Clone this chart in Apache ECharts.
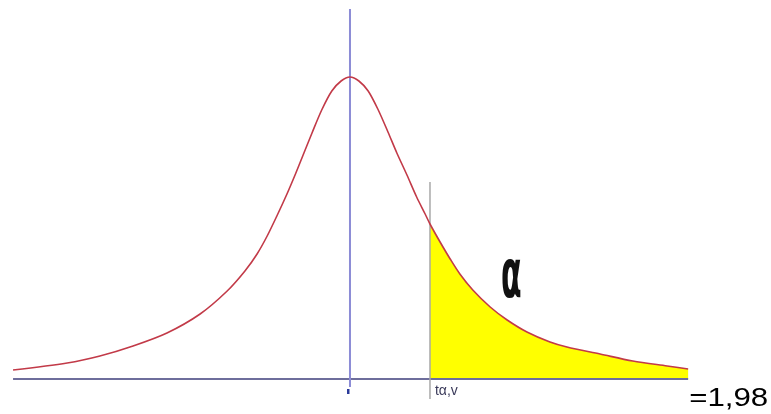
<!DOCTYPE html>
<html>
<head>
<meta charset="utf-8">
<script src="https://cdn.jsdelivr.net/npm/echarts@6/dist/echarts.min.js"></script>
<style>
  html, body { margin: 0; padding: 0; background: #fff; }
  #main { width: 771px; height: 414px; }
</style>
</head>
<body>
<div id="main"></div>
<script>
// curve points (t units, density)
const curveX = [-8.34, -7.00, -6.19, -5.37, -4.53, -3.71, -3.04, -2.60, -2.30, -2.05, -1.81, -1.56, -1.36, -1.16, -0.94, -0.70, -0.45, -0.22, 0,
  0.22, 0.45, 0.70, 0.94, 1.16, 1.41, 1.65, 1.86, 1.98, 2.23, 2.48, 2.72, 3.04, 3.47, 3.89, 4.38, 4.95, 5.37, 6.19, 7.00, 7.85, 8.37]
const curveY = [0.009, 0.016, 0.023, 0.033, 0.046, 0.065, 0.088, 0.108, 0.125, 0.143, 0.163, 0.185, 0.204, 0.224, 0.246, 0.269, 0.288, 0.298, 0.302,
  0.298, 0.288, 0.269, 0.247, 0.226, 0.204, 0.182, 0.165, 0.155, 0.137, 0.120, 0.105, 0.089, 0.072, 0.059, 0.047, 0.037, 0.032, 0.025, 0.018, 0.013, 0.010]
// critical value and guide lines
const tCrit = 1.98
const critLabel = '=1,98'
const tLabel = 'tα,v'
const alphaLabel = 'α'
const baseX = [-8.34, 8.37]
const centerY = [0.370, -0.008]
const critY = [0.197, -0.02]

const curve = curveX.map((x, i) => [x, curveY[i]])
const tail = curve.filter(p => p[0] >= tCrit)

const chart = echarts.init(document.getElementById('main'))
const option = {
    animation: false,
    grid: { left: 0, right: 0, top: 0, bottom: 0 },
    xAxis: { type: 'value', min: -8.663, max: 10.421, show: false },
    yAxis: { type: 'value', min: -0.035, max: 0.379, show: false },
    series: [
        {
            // area alpha
            type: 'line', data: tail, smooth: 0.3, symbol: 'none',
            lineStyle: { width: 0 },
            areaStyle: { color: '#ffff00', opacity: 1 },
            z: 1
        },
        {
            type: 'line', data: baseX.map(x => [x, 0]), symbol: 'none',
            lineStyle: { color: '#6e6e9c', width: 2 }, z: 2
        },
        {
            type: 'line', data: centerY.map(y => [0, y]), symbol: 'none',
            lineStyle: { color: '#8c8cd6', width: 2 }, z: 2
        },
        {
            type: 'line', data: critY.map(y => [tCrit, y]), symbol: 'none',
            lineStyle: { color: '#a8a8a8', width: 1.5 }, z: 2
        },
        {
            type: 'line', data: curve, smooth: 0.3, symbol: 'none',
            lineStyle: { color: '#c23a48', width: 1.6 }, z: 3
        }
    ]
}
chart.setOption(option)

// text labels placed from data coords
const pAlpha = chart.convertToPixel({ gridIndex: 0 }, [3.99, 0.100])
const pT = chart.convertToPixel({ gridIndex: 0 }, [tCrit, 0])
const pZero = chart.convertToPixel({ gridIndex: 0 }, [0, 0])
const pEnd = chart.convertToPixel({ gridIndex: 0 }, [baseX[1], 0])
chart.setOption({
    graphic: [
        {
            type: 'text', x: pAlpha[0], y: pAlpha[1], scaleX: 0.75, scaleY: 1.7,
            style: { text: alphaLabel, font: 'bold 40px "DejaVu Sans"', fill: '#111', align: 'center', verticalAlign: 'middle' }
        },
        {
            type: 'text', x: pT[0] + 5, y: pT[1] + 12,
            style: { text: tLabel, font: '14px "Liberation Sans"', fill: '#3a3a5a', align: 'left', verticalAlign: 'middle' }
        },
        {
            type: 'rect', shape: { x: pZero[0] - 3, y: pZero[1] + 10, width: 2.5, height: 5 },
            style: { fill: '#2a3a9a' }
        },
        {
            type: 'text', x: pEnd[0] + 1, y: pEnd[1] + 20, scaleX: 1.25,
            style: { text: critLabel, font: '25px "Liberation Sans"', fill: '#000', align: 'left', verticalAlign: 'middle' }
        }
    ]
})
</script>
</body>
</html>
